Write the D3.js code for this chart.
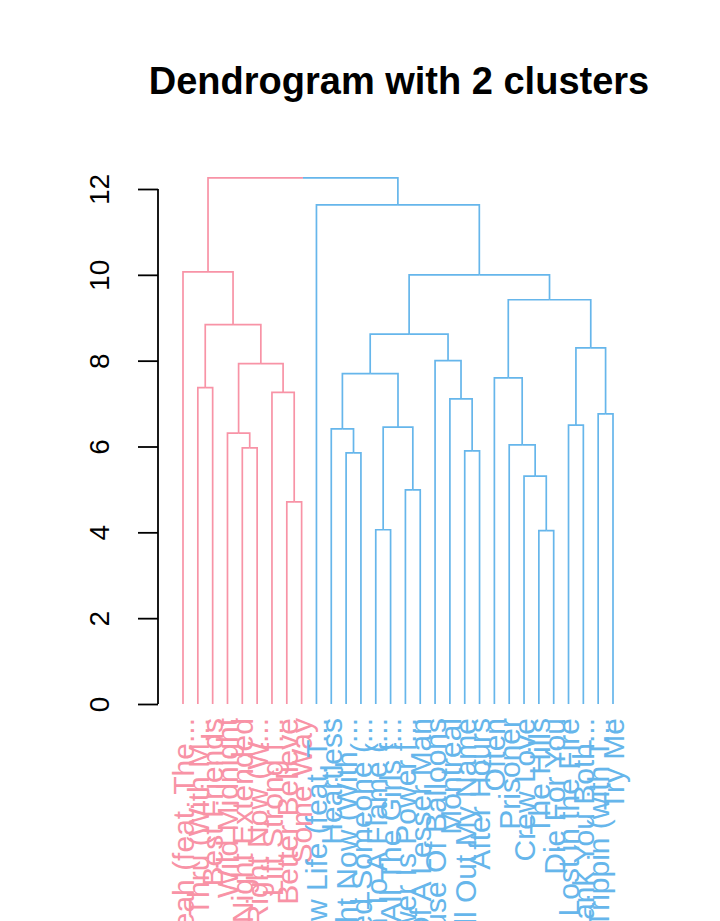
<!DOCTYPE html>
<html>
<head>
<meta charset="utf-8">
<script src="https://cdn.jsdelivr.net/npm/d3@7"></script>
<style>
  html, body { margin: 0; padding: 0; background: #fff; overflow: hidden; }
  svg { display: block; }
  text { font-family: "Liberation Sans", Arial, Helvetica, sans-serif; }
</style>
</head>
<body>
<svg id="chart" width="720" height="921"></svg>
<script>
// ---- data ----
const chartTitle = "Dendrogram with 2 clusters";

// leaves in dendrogram order (left to right)
const leafLabels = [
  "Yeah (feat. The...", "Ridin' Thru (With M...", "Best Friends", "Wild Midnight",
  "Late Night Extended", "Right Now (W...", "Lift Strong f...", "Better Believe", "Some Way",
  "Low Life (feat. T...", "Heartless", "Right Now (With ...", "I Need Someone (...",
  "Moth To A Flame (...", "All The Girls f...", "Power Is Power f...", "Portrait Of A Lesser Man",
  "House Of Balloons", "Montreal", "Call Out My Name", "After Hours", "Often", "Prisoner",
  "Crew Love", "The Hills", "Die For You", "Lost in the Fire", "Thank You Both...",
  "Trippin (with T...", "Try Me"
];

// hclust-style merge table: negative = leaf (1-based), positive = earlier merge row (1-based)
const mergeLeft   = [-25, -14, -8, -16, -24, -12, -20, -5, -23, -4, -11,  2, -27, -29, -19, -7, -2, -22, 11, 10, -18, 13, 19, 17, 18, 23, -1, -10, 27];
const mergeRight  = [-26, -15, -9, -17,   1, -13, -21, -6,   5,  8,   6,  4, -28, -30,   7,  3, -3,   9, 12, 16,  15, 14, 21, 20, 22, 25, 24,  26, 28];
const mergeHeight = [4.04, 4.06, 4.71, 4.99, 5.31, 5.85, 5.90, 5.97, 6.04, 6.31, 6.41, 6.45, 6.50, 6.76,
                     7.11, 7.26, 7.37, 7.60, 7.70, 7.93, 8.00, 8.30, 8.62, 8.84, 9.42, 10.00, 10.07, 11.63, 12.26];

const yTicks = [0, 2, 4, 6, 8, 10, 12];
const clusterColors = ["#F893A6", "#66B6EB"];

// ---- drawing ----
const svg = d3.select("#chart");

const x = d3.scalePoint().domain(d3.range(1, leafLabels.length + 1)).range([183, 613]);
const y = d3.scaleLinear().domain([0, 12]).range([704, 189]);

// node positions and cluster membership
const nodes = mergeHeight.map(() => ({}));
function ref(i) {
  if (i < 0) return { x: x(-i), h: 0, leaf: -i };
  return nodes[i - 1];
}
function leavesOf(i) {
  if (i < 0) return [-i];
  return leavesOf(mergeLeft[i - 1]).concat(leavesOf(mergeRight[i - 1]));
}
mergeHeight.forEach((h, k) => {
  const a = ref(mergeLeft[k]), b = ref(mergeRight[k]);
  nodes[k].x = (a.x + b.x) / 2;
  nodes[k].h = h;
});

// cut into 2 clusters: children of the root
const rootIdx = mergeHeight.length;
const leafCluster = new Array(leafLabels.length + 1).fill(0);
leavesOf(mergeLeft[rootIdx - 1]).forEach(l => leafCluster[l] = 0);
leavesOf(mergeRight[rootIdx - 1]).forEach(l => leafCluster[l] = 1);
function colorOf(i) { return clusterColors[leafCluster[leavesOf(i)[0]]]; }

// edges: from each merge to each child, coloured by child cluster
const edges = [];
mergeHeight.forEach((h, k) => {
  [mergeLeft[k], mergeRight[k]].forEach(c => {
    const ch = ref(c);
    edges.push({ x0: nodes[k].x, h0: h, x1: ch.x, h1: ch.h, color: colorOf(c) });
  });
});

svg.append("g").selectAll("path").data(edges).join("path")
  .attr("d", d => `M${d.x0},${y(d.h0)}H${d.x1}V${y(d.h1)}`)
  .attr("fill", "none")
  .attr("stroke", d => d.color)
  .attr("stroke-width", 1.7);

// y axis
const axis = d3.axisLeft(y).tickValues(yTicks).tickSize(20).tickPadding(0).tickFormat(d3.format("d"));
const gAxis = svg.append("g").attr("transform", "translate(158,0)").call(axis);
gAxis.select(".domain").attr("d", `M0,${y(0)}V${y(12)}`).attr("stroke", "#000").attr("stroke-width", 1.8);
gAxis.selectAll(".tick line").attr("stroke", "#000").attr("stroke-width", 1.8);
gAxis.selectAll(".tick text")
  .attr("x", 0)
  .attr("transform", "translate(-59,0) rotate(-90)")
  .attr("text-anchor", "middle")
  .attr("dy", "0.36em")
  .attr("fill", "#000")
  .style("font-size", "28px")
  .style("font-family", "'Liberation Sans', Arial, Helvetica, sans-serif");

// leaf labels
svg.append("g").selectAll("text").data(leafLabels).join("text")
  .attr("transform", (d, i) => `translate(${x(i + 1)},718) rotate(-90)`)
  .attr("text-anchor", "end")
  .attr("dy", "0.36em")
  .attr("fill", (d, i) => clusterColors[leafCluster[i + 1]])
  .style("font-size", "30px")
  .text(d => d);

// title
svg.append("text")
  .attr("x", 399).attr("y", 94)
  .attr("text-anchor", "middle")
  .style("font-size", "38px")
  .style("font-weight", "bold")
  .text(chartTitle);
</script>
</body>
</html>
